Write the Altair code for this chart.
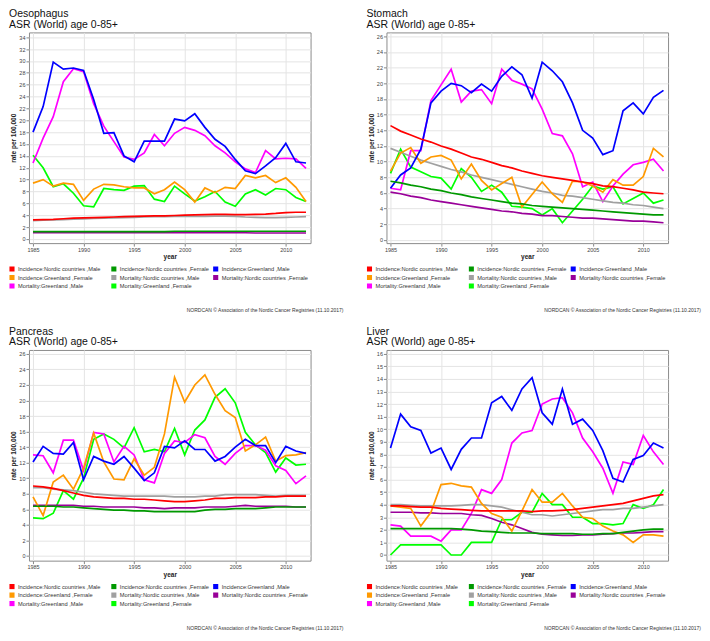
import altair as alt
import pandas as pd

years = list(range(1985, 2013))

series = [
    "Incidence:Nordic countries ,Male",
    "Incidence:Nordic countries ,Female",
    "Incidence:Greenland ,Male",
    "Incidence:Greenland ,Female",
    "Mortality:Nordic countries ,Male",
    "Mortality:Nordic countries ,Female",
    "Mortality:Greenland ,Male",
    "Mortality:Greenland ,Female",
]
colors = ["#FF0000", "#009900", "#0000FF", "#FF9900", "#A0A0A0", "#990099", "#FF00FF", "#00FF00"]

footer = "NORDCAN © Association of the Nordic Cancer Registries (11.10.2017)"
subtitle = "ASR (World) age 0-85+"

# ---------------- Oesophagus ----------------
oes_inc_nordic_m = [3.2, 3.25, 3.3, 3.4, 3.5, 3.55, 3.6, 3.65, 3.7, 3.75, 3.8, 3.85, 3.9, 3.9, 3.95, 4.0, 4.05, 4.1, 4.15, 4.15, 4.1, 4.1, 4.15, 4.2, 4.3, 4.45, 4.5, 4.5]
oes_inc_nordic_f = [1.25, 1.25, 1.25, 1.25, 1.25, 1.25, 1.25, 1.25, 1.25, 1.25, 1.25, 1.25, 1.25, 1.25, 1.3, 1.3, 1.3, 1.3, 1.3, 1.3, 1.3, 1.3, 1.3, 1.3, 1.3, 1.3, 1.3, 1.3]
oes_inc_gl_m = [18.0, 22.3, 29.8, 28.6, 28.8, 28.4, 23.5, 17.8, 17.9, 14.0, 13.0, 16.5, 16.5, 16.5, 20.2, 19.9, 21.1, 18.8, 16.8, 15.6, 13.4, 11.5, 11.0, 12.3, 13.7, 16.1, 13.0, 12.8]
oes_inc_gl_f = [9.4, 10.0, 8.9, 9.4, 9.2, 6.5, 8.4, 9.2, 9.1, 8.8, 8.6, 8.6, 7.6, 8.3, 9.6, 8.3, 6.2, 8.6, 7.8, 8.7, 8.5, 10.7, 10.3, 10.7, 9.5, 10.3, 8.7, 6.3]
oes_mort_nordic_m = [3.1, 3.15, 3.2, 3.25, 3.35, 3.4, 3.45, 3.5, 3.55, 3.6, 3.65, 3.7, 3.75, 3.75, 3.8, 3.8, 3.8, 3.8, 3.85, 3.85, 3.8, 3.7, 3.65, 3.6, 3.6, 3.65, 3.7, 3.75]
oes_mort_nordic_f = [1.05, 1.05, 1.05, 1.05, 1.05, 1.05, 1.05, 1.05, 1.05, 1.05, 1.05, 1.05, 1.05, 1.05, 1.05, 1.05, 1.05, 1.05, 1.05, 1.05, 1.05, 1.05, 1.0, 1.0, 1.0, 1.0, 1.0, 1.0]
oes_mort_gl_m = [12.8, 17.0, 20.6, 26.5, 28.7, 28.2, 22.8, 19.0, 16.4, 13.8, 13.4, 14.5, 17.6, 15.7, 17.8, 18.8, 18.3, 17.4, 15.7, 14.5, 13.0, 11.8, 11.2, 14.9, 13.5, 13.6, 13.5, 11.9]
oes_mort_gl_f = [14.1, 12.0, 8.8, 9.3, 7.7, 5.6, 5.4, 8.5, 8.3, 8.2, 8.9, 9.0, 6.7, 6.3, 8.9, 7.6, 6.4, 7.1, 8.0, 6.2, 5.5, 7.6, 8.3, 7.4, 8.5, 8.3, 7.0, 6.3]

# ---------------- Stomach ----------------
sto_inc_nordic_m = [14.6, 13.9, 13.4, 12.9, 12.5, 12.0, 11.6, 11.1, 10.6, 10.3, 9.9, 9.5, 9.2, 8.8, 8.5, 8.2, 8.0, 7.8, 7.6, 7.4, 7.2, 6.9, 6.8, 6.6, 6.4, 6.1, 6.0, 5.9]
sto_inc_nordic_f = [7.5, 7.3, 7.0, 6.8, 6.5, 6.3, 6.0, 5.8, 5.5, 5.3, 5.1, 4.9, 4.7, 4.6, 4.4, 4.3, 4.2, 4.1, 4.0, 3.9, 3.8, 3.7, 3.6, 3.5, 3.4, 3.3, 3.2, 3.2]
sto_inc_gl_m = [6.6, 8.3, 9.2, 11.6, 17.5, 19.0, 20.0, 19.7, 18.8, 19.9, 19.0, 20.9, 22.1, 21.1, 18.1, 22.7, 21.6, 20.2, 17.5, 14.0, 13.0, 10.9, 11.4, 16.5, 17.5, 16.1, 18.2, 19.1]
sto_inc_gl_f = [8.8, 11.1, 11.8, 9.8, 10.6, 10.8, 10.2, 7.8, 9.7, 7.6, 6.4, 7.2, 8.0, 4.2, 5.8, 7.4, 5.9, 4.8, 7.5, 7.4, 6.9, 6.1, 7.7, 7.0, 7.0, 8.1, 11.7, 10.6]
sto_mort_nordic_m = [11.7, 11.2, 10.7, 10.2, 9.8, 9.4, 9.0, 8.7, 8.3, 8.0, 7.7, 7.4, 7.1, 6.8, 6.5, 6.2, 6.0, 5.7, 5.6, 5.4, 5.2, 5.0, 4.8, 4.7, 4.5, 4.4, 4.2, 4.0]
sto_mort_nordic_f = [6.1, 5.9, 5.6, 5.4, 5.1, 4.9, 4.7, 4.5, 4.3, 4.1, 3.9, 3.7, 3.6, 3.4, 3.3, 3.1, 3.1, 3.0, 2.9, 2.8, 2.8, 2.7, 2.6, 2.5, 2.4, 2.4, 2.3, 2.2]
sto_mort_gl_m = [6.6, 6.4, 11.4, 11.4, 17.8, 19.8, 21.8, 17.6, 19.0, 19.2, 17.4, 21.8, 20.4, 19.9, 19.3, 16.7, 13.6, 13.3, 11.0, 6.8, 7.4, 4.9, 6.9, 8.4, 9.6, 9.9, 10.3, 8.8]
sto_mort_gl_f = [8.5, 11.6, 9.3, 8.7, 8.1, 7.9, 6.5, 9.1, 8.0, 6.2, 7.0, 6.1, 4.3, 4.2, 4.0, 3.2, 4.0, 2.2, 3.7, 5.2, 6.9, 6.5, 6.8, 4.6, 5.3, 6.0, 4.7, 5.1]

# ---------------- Pancreas ----------------
pan_inc_nordic_m = [9.0, 8.9, 8.7, 8.4, 8.1, 7.8, 7.6, 7.5, 7.4, 7.4, 7.3, 7.3, 7.2, 7.1, 7.0, 7.0, 7.1, 7.2, 7.4, 7.4, 7.5, 7.5, 7.5, 7.6, 7.6, 7.7, 7.7, 7.7]
pan_inc_nordic_f = [6.4, 6.4, 6.4, 6.3, 6.3, 6.2, 6.1, 6.0, 5.9, 5.9, 5.8, 5.8, 5.7, 5.7, 5.7, 5.7, 5.7, 5.9, 6.0, 6.0, 6.1, 6.1, 6.1, 6.2, 6.3, 6.3, 6.3, 6.3]
pan_inc_gl_m = [12.1, 14.1, 13.2, 13.1, 14.6, 9.8, 12.8, 12.2, 11.8, 12.8, 11.3, 9.7, 10.7, 14.1, 13.9, 14.8, 13.7, 13.7, 12.2, 12.8, 14.0, 15.0, 14.2, 14.2, 12.0, 14.1, 13.5, 13.2]
pan_inc_gl_f = [7.6, 5.2, 9.5, 10.4, 8.6, 11.3, 15.8, 12.1, 9.9, 9.8, 12.5, 10.4, 11.4, 15.7, 23.0, 19.8, 22.0, 23.3, 20.8, 18.7, 17.8, 13.5, 14.3, 15.3, 12.2, 12.9, 13.0, 13.3]
pan_mort_nordic_m = [8.8, 8.8, 8.6, 8.5, 8.4, 8.2, 8.0, 7.9, 7.8, 7.7, 7.7, 7.7, 7.7, 7.7, 7.6, 7.6, 7.6, 7.7, 7.7, 7.9, 7.9, 7.9, 7.9, 7.8, 7.7, 7.8, 7.8, 7.8]
pan_mort_nordic_f = [6.5, 6.5, 6.5, 6.5, 6.5, 6.4, 6.4, 6.3, 6.3, 6.3, 6.3, 6.2, 6.2, 6.1, 6.2, 6.2, 6.2, 6.3, 6.3, 6.3, 6.4, 6.5, 6.4, 6.4, 6.4, 6.4, 6.3, 6.3]
pan_mort_gl_m = [13.0, 12.9, 10.7, 14.9, 14.9, 11.0, 15.9, 15.7, 12.1, 14.1, 13.0, 9.8, 9.4, 13.2, 14.8, 14.6, 15.6, 15.2, 12.8, 11.8, 13.2, 14.2, 14.2, 13.6, 11.6, 11.0, 9.3, 10.3]
pan_mort_gl_f = [4.9, 4.8, 5.5, 8.4, 7.3, 10.0, 15.0, 15.7, 15.0, 13.9, 16.5, 13.4, 13.7, 13.4, 16.4, 13.0, 16.2, 17.5, 20.4, 21.5, 19.7, 15.9, 14.3, 13.3, 10.8, 12.6, 11.7, 11.8]

# ---------------- Liver ----------------
liv_inc_nordic_m = [3.9, 3.9, 3.85, 3.8, 3.8, 3.7, 3.65, 3.6, 3.55, 3.5, 3.5, 3.5, 3.5, 3.5, 3.45, 3.5, 3.5, 3.55, 3.6, 3.7, 3.8, 3.9, 4.0, 4.1, 4.3, 4.5, 4.7, 4.8]
liv_inc_nordic_f = [2.1, 2.1, 2.1, 2.1, 2.1, 2.1, 2.1, 2.05, 2.0, 1.9, 1.85, 1.8, 1.75, 1.75, 1.75, 1.7, 1.7, 1.7, 1.7, 1.65, 1.65, 1.7, 1.7, 1.8, 1.9, 2.0, 2.05, 2.05]
liv_inc_gl_m = [8.5, 11.2, 10.2, 9.9, 8.1, 8.5, 6.8, 8.4, 9.3, 9.3, 12.1, 12.6, 11.5, 13.2, 14.1, 11.3, 10.4, 13.2, 10.4, 10.8, 9.9, 8.3, 6.1, 5.8, 7.6, 7.9, 8.9, 8.5]
liv_inc_gl_f = [3.9, 3.8, 3.7, 2.3, 3.4, 5.6, 5.7, 5.5, 5.4, 4.1, 3.3, 3.0, 1.9, 3.5, 5.2, 4.2, 4.2, 4.9, 3.9, 3.0, 2.9, 2.3, 1.9, 1.6, 1.0, 1.6, 1.6, 1.5]
liv_mort_nordic_m = [4.0, 4.0, 3.95, 3.9, 3.9, 3.9, 3.9, 3.95, 4.0, 4.0, 3.9, 3.8, 3.6, 3.4, 3.2, 3.2, 3.1, 3.2, 3.3, 3.4, 3.5, 3.6, 3.6, 3.7, 3.7, 3.8, 3.9, 4.0]
liv_mort_nordic_f = [3.4, 3.4, 3.4, 3.35, 3.35, 3.3, 3.3, 3.3, 3.2, 3.15, 2.9, 2.6, 2.4, 2.1, 1.8, 1.65, 1.6, 1.55, 1.55, 1.6, 1.6, 1.65, 1.7, 1.75, 1.75, 1.8, 1.85, 1.85]
liv_mort_gl_m = [2.4, 2.3, 1.5, 1.5, 1.5, 1.1, 2.0, 2.0, 3.3, 5.2, 4.9, 6.0, 8.9, 9.7, 9.9, 12.0, 12.4, 12.5, 11.3, 9.3, 8.2, 6.9, 4.9, 7.4, 7.2, 9.5, 8.2, 7.2]
liv_mort_gl_f = [0.0, 0.8, 0.8, 0.8, 0.8, 0.8, 0.0, 0.0, 1.0, 1.0, 1.0, 2.8, 2.8, 3.4, 3.4, 4.9, 4.0, 4.0, 3.0, 3.0, 2.5, 2.5, 2.4, 2.5, 4.0, 3.7, 4.0, 5.2]

oes_ticks = [0, 2, 4, 6, 8, 10, 12, 14, 16, 18, 20, 22, 24, 26, 28, 30, 32, 34]
sto_ticks = [0, 2, 4, 6, 8, 10, 12, 14, 16, 18, 20, 22, 24, 26]
pan_ticks = [0, 2, 4, 6, 8, 10, 12, 14, 16, 18, 20, 22, 24, 26]
liv_ticks = [0, 1, 2, 3, 4, 5, 6, 7, 8, 9, 10, 11, 12, 13, 14, 15, 16]
year_ticks = [1985, 1990, 1995, 2000, 2005, 2010]

FONT = "Liberation Sans"
W = 282
H = 211


def panel(name, cols, ydomain, yticks):
    rows = []
    for s, vals in zip(series, cols):
        for yr, v in zip(years, vals):
            rows.append({"year": yr, "rate": v, "series": s})
    df = pd.DataFrame(rows)

    color = alt.Color(
        "series:N",
        scale=alt.Scale(domain=series, range=colors),
        legend=alt.Legend(
            orient="none", legendX=-20, legendY=H + 23, columns=3, direction="horizontal",
            title=None, symbolType="square", symbolSize=6.25, symbolStrokeWidth=2.6,
            labelFontSize=5.7, labelFont=FONT, labelColor="#333333",
            gridAlign="all", columnPadding=3, rowPadding=2.5, labelOffset=3,
            padding=0, symbolOffset=0, clipHeight=6,
        ),
    )
    x = alt.X("year:Q", scale=alt.Scale(domain=[1984.6, 2012.45], nice=False, zero=False),
              axis=alt.Axis(values=year_ticks, format="d", title="year", titlePadding=1,
                            labelPadding=1, tickSize=3))
    y = alt.Y("rate:Q", scale=alt.Scale(domain=ydomain, nice=False, zero=False),
              axis=alt.Axis(values=yticks, title="rate per 100,000", titlePadding=2,
                            labelPadding=1, tickSize=3))

    layers = []
    for s in reversed(series):
        layers.append(
            alt.Chart(df).transform_filter(alt.datum.series == s)
            .mark_line(strokeWidth=1.7)
            .encode(x=x, y=y, color=color)
        )
    foot = alt.Chart(pd.DataFrame({"t": [footer]})).mark_text(
        align="right", baseline="middle", fontSize=5, font=FONT, color="#333333"
    ).encode(text="t:N", x=alt.value(W + 33), y=alt.value(H + 67))
    layers.append(foot)

    return alt.layer(*layers).properties(
        width=W, height=H,
        title=alt.TitleParams(text=[name, subtitle], anchor="start", fontSize=10.5,
                              font=FONT, fontWeight="normal", color="#111111",
                              lineHeight=10.5, offset=2),
    )


p1 = panel("Oesophagus",
           [oes_inc_nordic_m, oes_inc_nordic_f, oes_inc_gl_m, oes_inc_gl_f,
            oes_mort_nordic_m, oes_mort_nordic_f, oes_mort_gl_m, oes_mort_gl_f],
           [-0.7, 34.8], oes_ticks)
p2 = panel("Stomach",
           [sto_inc_nordic_m, sto_inc_nordic_f, sto_inc_gl_m, sto_inc_gl_f,
            sto_mort_nordic_m, sto_mort_nordic_f, sto_mort_gl_m, sto_mort_gl_f],
           [-0.4, 26.5], sto_ticks)
p3 = panel("Pancreas",
           [pan_inc_nordic_m, pan_inc_nordic_f, pan_inc_gl_m, pan_inc_gl_f,
            pan_mort_nordic_m, pan_mort_nordic_f, pan_mort_gl_m, pan_mort_gl_f],
           [-0.6, 26.5], pan_ticks)
p4 = panel("Liver",
           [liv_inc_nordic_m, liv_inc_nordic_f, liv_inc_gl_m, liv_inc_gl_f,
            liv_mort_nordic_m, liv_mort_nordic_f, liv_mort_gl_m, liv_mort_gl_f],
           [-0.45, 16.3], liv_ticks)

row1 = alt.hconcat(p1, p2, spacing=21).resolve_scale(color="independent").resolve_legend(color="independent")
row2 = alt.hconcat(p3, p4, spacing=21).resolve_scale(color="independent").resolve_legend(color="independent")

chart = (
    alt.vconcat(row1, row2, spacing=12)
    .resolve_scale(color="independent")
    .resolve_legend(color="independent")
    .properties(padding=0, background="white")
    .configure_view(stroke="#8c8c8c", strokeWidth=1)
    .configure_axis(
        gridColor="#e4e4e4", gridWidth=1, domain=False, tickColor="#888888",
        labelFontSize=5.5, labelFont=FONT, labelColor="#444444",
        titleFont=FONT, titleFontSize=6.5, titleFontWeight="bold", titleColor="#222222",
    )
)

chart.save("out.html", embed_options={"renderer": "svg", "actions": False})
